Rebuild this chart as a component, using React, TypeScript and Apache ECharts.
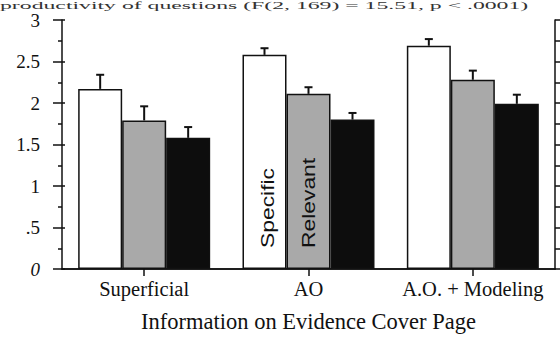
import React, { useEffect, useRef } from "react";
import * as echarts from "echarts";

const categories = ["Superficial", "AO", "A.O. + Modeling"];
const specificValues = [2.17, 2.58, 2.69];
const relevantValues = [1.79, 2.11, 2.28];
const thirdValues = [1.58, 1.8, 1.99];
const specificErrors = [0.17, 0.08, 0.08];
const relevantErrors = [0.17, 0.08, 0.11];
const thirdErrors = [0.13, 0.08, 0.11];
const seriesNames = ["Specific", "Relevant", "Other"];
const xAxisTitle = "Information on Evidence Cover Page";
const topCaption = "productivity of questions (F(2, 169) = 15.51, p < .0001)";

const BAR_W = 44;
const SERIF = "Liberation Serif";
const SANS = "Liberation Sans";

function errorSeries(values: number[], errs: number[], offsetIndex: number) {
  return {
    type: "custom",
    xAxisIndex: 0,
    yAxisIndex: 0,
    z: 5,
    silent: true,
    encode: { x: 0, y: [1, 2] },
    data: values.map((v, i) => [i, v, v + errs[i]]),
    renderItem: (params: any, api: any) => {
      const base = api.coord([api.value(0), api.value(1)]);
      const top = api.coord([api.value(0), api.value(2)]);
      const x = base[0] + offsetIndex * BAR_W;
      const style = { stroke: "#111", lineWidth: 2 };
      return {
        type: "group",
        children: [
          { type: "line", shape: { x1: x, y1: base[1], x2: x, y2: top[1] }, style },
          { type: "line", shape: { x1: x - 4, y1: top[1], x2: x + 4, y2: top[1] }, style },
        ],
      };
    },
  };
}

export default function App() {
  const ref = useRef<HTMLDivElement>(null);
  useEffect(() => {
    if (!ref.current) return;
    const chart = echarts.init(ref.current, undefined, { renderer: "svg" });
    const axisLine = { show: true, lineStyle: { color: "#111", width: 1.5 } };
    const barBase = {
      type: "bar",
      xAxisIndex: 0,
      yAxisIndex: 0,
      barWidth: BAR_W,
      barGap: "0%",
    };
    chart.setOption({
      animation: false,
      backgroundColor: "#ffffff",
      grid: { left: 62, right: 5, top: 20, bottom: 72 },
      xAxis: [
        {
          type: "category",
          data: categories,
          position: "bottom",
          axisLine,
          axisTick: { show: true, alignWithLabel: true, length: 7, lineStyle: { color: "#111", width: 1.5 } },
          axisLabel: { color: "#111", fontFamily: SERIF, fontSize: 20.5, margin: 9, interval: 0 },
          name: xAxisTitle,
          nameLocation: "middle",
          nameGap: 41,
          nameTextStyle: { color: "#111", fontFamily: SERIF, fontSize: 22.5 },
        },
        {
          type: "category",
          data: categories,
          position: "top",
          axisLine,
          axisTick: { show: true, alignWithLabel: true, length: 6, lineStyle: { color: "#111", width: 1.5 } },
          axisLabel: { show: false },
        },
      ],
      yAxis: [
        {
          type: "value",
          min: 0,
          max: 3,
          interval: 0.5,
          position: "left",
          axisLine,
          splitLine: { show: false },
          axisTick: { show: true, length: 9, lineStyle: { color: "#111", width: 1.5 } },
          minorTick: { show: true, splitNumber: 2, length: 4, lineStyle: { color: "#111", width: 1.5 } },
          axisLabel: {
            color: "#111",
            fontFamily: SERIF,
            fontSize: 19,
            margin: 22,
            formatter: (v: number) => (v === 0 ? "{i|0}" : v === 0.5 ? ".5" : String(v)),
            rich: { i: { fontStyle: "italic", fontFamily: SERIF, fontSize: 19, color: "#111" } },
          },
        },
        {
          type: "value",
          min: 0,
          max: 3,
          interval: 0.5,
          position: "left",
          axisLine: { show: false },
          splitLine: { show: false },
          axisTick: { show: true, inside: true, length: 3, lineStyle: { color: "#111", width: 1.5 } },
          axisLabel: { show: false },
        },
        {
          type: "value",
          min: 0,
          max: 3,
          interval: 0.25,
          position: "right",
          axisLine,
          splitLine: { show: false },
          axisTick: { show: true, length: 5, lineStyle: { color: "#111", width: 1.5 } },
          axisLabel: { show: false },
        },
      ],
      series: [
        {
          ...barBase,
          name: seriesNames[0],
          data: specificValues,
          itemStyle: { color: "#ffffff", borderColor: "#111", borderWidth: 1.5 },
        },
        {
          ...barBase,
          name: seriesNames[1],
          data: relevantValues,
          itemStyle: { color: "#a9a9a9", borderColor: "#111", borderWidth: 1.5 },
        },
        {
          ...barBase,
          name: seriesNames[2],
          data: thirdValues,
          itemStyle: { color: "#0d0d0d", borderColor: "#111", borderWidth: 1.5 },
        },
        errorSeries(specificValues, specificErrors, -1),
        errorSeries(relevantValues, relevantErrors, 0),
        errorSeries(thirdValues, thirdErrors, 1),
      ],
    });

    const ao = chart.convertToPixel({ xAxisIndex: 0, yAxisIndex: 0 }, [1, 0]) as number[];
    const labelBottom = ao[1] - 21;
    chart.setOption({
      graphic: [
        {
          type: "text",
          x: 0,
          y: 0,
          z: 100,
          scaleX: 1.25,
          scaleY: 0.55,
          style: {
            text: topCaption,
            font: `19px '${SERIF}'`,
            fill: "#333",
            textAlign: "left",
            textVerticalAlign: "top",
          },
        },
        {
          type: "text",
          x: ao[0] - BAR_W + 3,
          y: labelBottom,
          z: 100,
          rotation: Math.PI / 2,
          scaleX: 1.27,
          style: {
            text: seriesNames[0],
            font: `18px '${SANS}'`,
            fill: "#111",
            textAlign: "left",
            textVerticalAlign: "middle",
          },
        },
        {
          type: "text",
          x: ao[0],
          y: labelBottom,
          z: 100,
          rotation: Math.PI / 2,
          scaleX: 1.27,
          style: {
            text: seriesNames[1],
            font: `18px '${SANS}'`,
            fill: "#111",
            textAlign: "left",
            textVerticalAlign: "middle",
          },
        },
      ],
    });
    return () => chart.dispose();
  }, []);
  return (
    <div
      ref={ref}
      style={{ position: "fixed", left: 0, top: 0, width: 560, height: 341 }}
    />
  );
}
